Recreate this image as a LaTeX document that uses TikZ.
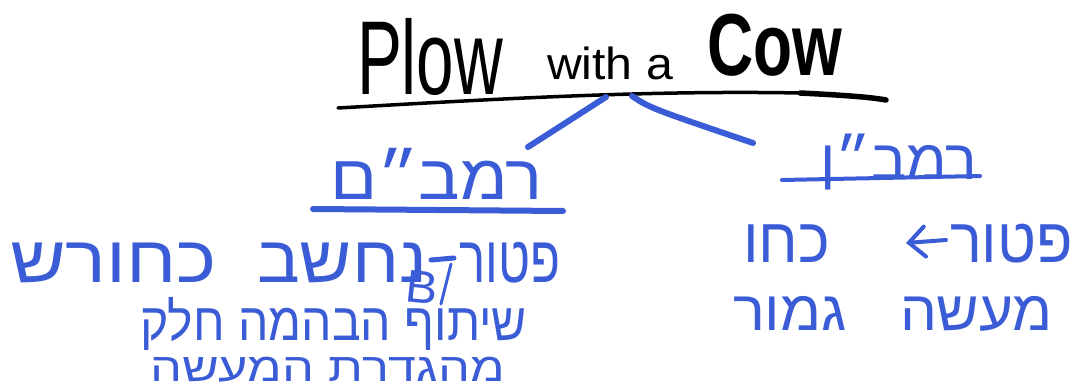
\documentclass[tikz,border=0pt]{standalone}
\usepackage{fontspec}
\usetikzlibrary{arrows.meta}
\setmainfont{Liberation Sans}
\newfontfamily\heb[Script=Hebrew]{Liberation Sans}
\TeXXeTstate=1
\definecolor{inkblue}{RGB}{58,92,214}
\newcommand\fitw[3]{\resizebox{#1pt}{\height}{\fontsize{#2}{#2}\selectfont #3}}
\newcommand\hebline[3]{\fitw{#1}{#2}{\heb\beginR #3\endR}}
\tikzset{
  txt/.style={inner sep=0pt, outer sep=0pt, anchor=base west},
  titletxt/.style={txt, text=black},
  hebtxt/.style={txt, text=inkblue},
  blackline/.style={draw=black, line cap=round},
  blueline/.style={draw=inkblue, line cap=round},
}
\begin{document}
\begin{tikzpicture}[x=1pt,y=-1pt]
\useasboundingbox (0,0) rectangle (1078,390);
\fill[white] (0,0) rectangle (1078,390);
% title
\node[titletxt] (plow) at (357,95) {\fitw{146}{105}{Plow}};
\node[titletxt] (with) at (547,80) {\fitw{126}{45}{with a}};
\node[titletxt] (cow) at (707,76) {\fitw{135}{88}{\bfseries Cow}};
\draw[blackline, line width=3.5] (338,108) .. controls (480,100) and (640,90) .. (800,93);
\draw[blackline, line width=5.5] (800,93) .. controls (840,95) and (870,97) .. (886,100);
\coordinate (ulA) at (606,97);
\coordinate (ulB) at (632,96);
% headings
\node[hebtxt] (rambam) at (330,200) {\hebline{213}{63}{רמב״ם}};
\node[hebtxt] (ramban) at (820,179) {\hebline{157}{56}{רמב״ן}};
\coordinate (hA) at (528,147);
\coordinate (hB) at (753,143);
\draw[blueline, line width=6] (ulA) -- (hA);
\draw[blueline, line width=6] (ulB) .. controls (650,108) .. (hB);
\draw[blueline, line width=6] (313,209) -- (563,211);
\draw[blueline, line width=4] (782,180) -- (980,176);
% left body
\node[hebtxt] (l1a) at (459,282) {\hebline{101}{66}{פטור}};
\node[hebtxt] (l1b) at (257,282) {\hebline{170}{66}{נחשב}};
\node[hebtxt] (l1c) at (10,282) {\hebline{207}{66}{כחורש}};
\coordinate (dashR) at (454,258);
\coordinate (dashL) at (431,260);
\draw[blueline, line width=5] (dashR) -- (dashL);
\node[hebtxt] (l2) at (140,340) {\hebline{387}{53}{שיתוף הבהמה חלק}};
\node[hebtxt] (l3) at (150,381) {\hebline{355}{40}{מהגדרת המעשה}};
\node[hebtxt, rotate=-6] (bee) at (404,301) {\fitw{32}{46}{B}};
\coordinate (strokeT) at (451,264);
\coordinate (strokeB) at (441,304);
\draw[blueline, line width=3] (strokeT) -- (strokeB);
% right body
\node[hebtxt] (r1a) at (950,262) {\hebline{123}{63}{פטור}};
\node[hebtxt] (r1c) at (743,262) {\hebline{87}{63}{כחו}};
\coordinate (arrS) at (946,240);
\coordinate (arrE) at (906,243);
\draw[blueline, line width=4, -{Straight Barb[length=16pt, width=30pt, line cap=round]}] (arrS) -- (arrE);
\node[hebtxt] (r2a) at (900,330) {\hebline{153}{56}{מעשה}};
\node[hebtxt] (r2b) at (733,330) {\hebline{114}{56}{גמור}};
\end{tikzpicture}
\end{document}
